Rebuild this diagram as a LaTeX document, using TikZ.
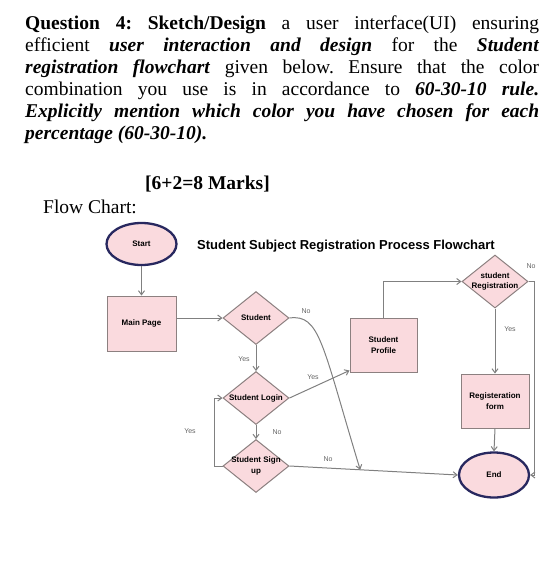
\documentclass[tikz,border=0pt]{standalone}
\usepackage{fontspec}
\setmainfont{Liberation Serif}
\newfontfamily\chartfont{Liberation Sans}
\usetikzlibrary{shapes.geometric,arrows.meta,calc}
\definecolor{boxfill}{RGB}{250,218,222}
\definecolor{boxline}{RGB}{140,128,128}
\definecolor{navyline}{RGB}{40,40,95}
\definecolor{connline}{RGB}{128,128,128}
\definecolor{labelgray}{RGB}{100,100,100}
\newcommand{\dtext}[1]{\makebox[0pt]{\begin{tabular}{@{}c@{}}#1\end{tabular}}}
\frenchspacing
\tikzset{
  rectbox/.style={rectangle, draw=boxline, fill=boxfill, line width=1pt, inner sep=0pt,
    font=\chartfont\bfseries\fontsize{8}{11}\selectfont, align=center},
  decision/.style={diamond, draw=boxline, fill=boxfill, line width=1pt, inner sep=0pt,
    font=\chartfont\bfseries\fontsize{8}{10.5}\selectfont, minimum width=66pt, minimum height=53pt},
  terminal/.style={ellipse, draw=navyline, fill=boxfill, line width=2.3pt, inner sep=0pt,
    font=\chartfont\bfseries\fontsize{8}{10}\selectfont},
  conn/.style={draw=connline, line width=1pt, -{Straight Barb[length=4pt,width=6pt]}},
  lbl/.style={font=\chartfont\fontsize{7}{8}\selectfont, text=labelgray, inner sep=0pt},
}
\begin{document}
\begin{tikzpicture}[x=1pt,y=-1pt]
\useasboundingbox (0,0) rectangle (560,574);
% question text
\node[anchor=north west, text width=514pt, align=justify, inner sep=0pt,
  font=\fontsize{19.5}{22}\selectfont\frenchspacing] (question) at (25,16)
{\textbf{Question 4: Sketch/Design} a user interface(UI) ensuring\linebreak
efficient \textbf{\textit{user interaction and design}} for the \textbf{\textit{Student}}\linebreak
\textbf{\textit{registration flowchart}} given below. Ensure that the color\linebreak
combination you use is in accordance to \textbf{\textit{60-30-10 rule.}}\linebreak
\textbf{\textit{Explicitly mention which color you have chosen for each}}\linebreak
\textbf{\textit{percentage (60-30-10).}}};
\node[anchor=base west, inner sep=0pt, font=\fontsize{19.5}{21}\selectfont\bfseries] (marks) at (145,189) {[6+2=8 Marks]};
\node[anchor=base west, inner sep=0pt, font=\fontsize{19.5}{21}\selectfont] (fc) at (43,213) {Flow Chart:};
% title
\node[font=\chartfont\bfseries\fontsize{13}{15}\selectfont, inner sep=0pt] (title) at (346,246) {Student Subject Registration Process Flowchart};
% nodes
\node[terminal, minimum width=70pt, minimum height=42pt] (start) at (141.5,244) {Start};
\node[rectbox, minimum width=69pt, minimum height=55pt] (main) at (141.5,323.5) {Main Page};
\node[decision] (student) at (256,318) {\dtext{Student}};
\node[decision] (login) at (256,398) {\dtext{Student Login}};
\node[decision] (signup) at (256,466) {\dtext{Student Sign\\up}};
\node[rectbox, minimum width=67pt, minimum height=54pt] (profile) at (383.5,345) {Student\\Profile};
\node[decision] (sreg) at (495,281.5) {\dtext{student\\Registration}};
\node[rectbox, minimum width=68pt, minimum height=54pt] (regform) at (495,401) {Registeration\\form};
\node[terminal, minimum width=70pt, minimum height=45pt] (end) at (494,475) {End};
% connectors
\draw[conn] (start.south) -- (main.north);
\draw[conn] (main.east |- student.west) -- (student.west);
\draw[conn] (student.south) -- (login.north);
\draw[conn] (login.south) -- (signup.north);
\draw[conn] (signup.west) -- ++(-8,0) |- (login.west);
\draw[conn] (signup.east) -- (end.west);
\coordinate (meet) at ($(signup.east)!0.42!(end.west)$);
\draw[conn] (student.east) .. controls (320,314) and (322,344) .. (meet);
\draw[conn] (login.east) -- ($(profile.south west)+(0,-2)$);
\draw[conn] (profile.north) |- (sreg.west);
\draw[conn] (sreg.south) -- (regform.north);
\draw[conn] (sreg.east) -- ++(6,0) |- (end.east);
\draw[conn] (regform.south) -- (end.north);
% labels
\node[lbl] (l1) at (244,359) {Yes};
\node[lbl] (l2) at (277,432) {No};
\node[lbl] (l3) at (190,431) {Yes};
\node[lbl] (l4) at (328,459) {No};
\node[lbl] (l5) at (306,311) {No};
\node[lbl] (l6) at (313,377) {Yes};
\node[lbl] (l7) at (510,329) {Yes};
\node[lbl] (l8) at (531,266) {No};
\end{tikzpicture}
\end{document}
